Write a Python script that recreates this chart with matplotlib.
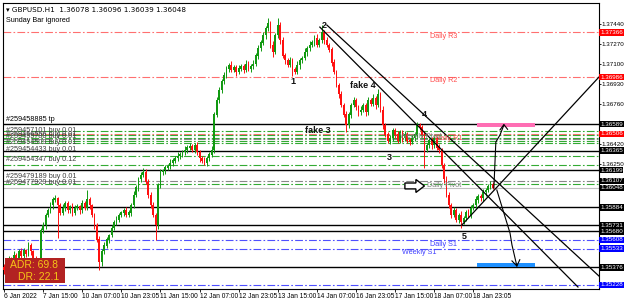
import numpy as np
import matplotlib
matplotlib.use('Agg')
import matplotlib.pyplot as plt
from matplotlib.patches import Rectangle, Polygon

plt.rcParams['font.family'] = ['Liberation Sans', 'DejaVu Sans']

# --- data -------------------------------------------------------------
first_open = 1.3538
closes = [
    1.3535, 1.3540, 1.3545, 1.3542, 1.3548, 1.3545, 1.3551, 1.3547, 1.3552, 1.3549,
    1.3556, 1.3551, 1.3545, 1.3542, 1.3539,
    1.3569, 1.3573, 1.3582, 1.3586, 1.3590, 1.3595, 1.3596,
    1.3590, 1.3584, 1.3588, 1.3592, 1.3586, 1.3589, 1.3584, 1.3588,
    1.3589, 1.3586, 1.3592, 1.3588, 1.3595, 1.3590,
    1.3582, 1.3573, 1.3561, 1.3542,
    1.3551, 1.3556, 1.3561, 1.3565, 1.3571, 1.3576, 1.3578, 1.3582, 1.3584, 1.3586,
    1.3582, 1.3584, 1.3590, 1.3599, 1.3605, 1.3612, 1.3616, 1.3618,
    1.3610, 1.3599, 1.3590, 1.3582, 1.3573,
    1.3607, 1.3618,
    1.3620, 1.3622, 1.3623, 1.3626, 1.3628, 1.3630, 1.3632, 1.3633, 1.3635, 1.3637,
    1.3639, 1.3640, 1.3637, 1.3641,
    1.3635, 1.3630, 1.3628, 1.3626, 1.3630, 1.3633,
    1.3637, 1.3667, 1.3679, 1.3688, 1.3695, 1.3700, 1.3706,
    1.3709, 1.3705, 1.3707, 1.3703, 1.3706, 1.3708, 1.3705, 1.3710, 1.3706, 1.3708, 1.3710,
    1.3717, 1.3723, 1.3728,
    1.3734, 1.3740, 1.3744, 1.3726, 1.3720, 1.3734, 1.3743, 1.3730, 1.3717, 1.3713,
    1.3709, 1.3713, 1.3705, 1.3703,
    1.3709, 1.3713, 1.3715, 1.3720, 1.3723, 1.3726,
    1.3728, 1.3732, 1.3726, 1.3730, 1.3737,
    1.3730, 1.3726, 1.3722,
    1.3711, 1.3703, 1.3692, 1.3684, 1.3675, 1.3667, 1.3658,
    1.3667, 1.3675, 1.3679, 1.3673, 1.3669,
    1.3671, 1.3675, 1.3669, 1.3679, 1.3676, 1.3681, 1.3675, 1.3684,
    1.3671, 1.3658, 1.3650, 1.3645, 1.3647,
    1.3654, 1.3650, 1.3645, 1.3652, 1.3647, 1.3650, 1.3645, 1.3644, 1.3647, 1.3650,
    1.3658, 1.3656, 1.3650, 1.3637, 1.3641,
    1.3645, 1.3641, 1.3647, 1.3639, 1.3637,
    1.3624, 1.3612, 1.3599, 1.3590,
    1.3582, 1.3586, 1.3578, 1.3582, 1.3576, 1.3579,
    1.3584, 1.3582, 1.3588, 1.3590,
    1.3595, 1.3598, 1.3596, 1.3601, 1.3603, 1.3606, 1.36078, 1.36048,
]
# wick lengths in pips beyond the body
hi_wick = [
    2, 3, 2, 1, 3, 2, 2, 3, 2, 1,  3, 2, 1, 2, 1, 2, 3, 2, 2, 3,
    2, 3, 1, 2, 3, 2, 2, 1, 3, 2,  2, 1, 3, 2, 8, 2, 1, 2, 2, 3,
    2, 3, 2, 1, 2, 2, 3, 2, 1, 2,  3, 2, 2, 3, 2, 2, 2, 4, 3, 2,
    2, 3, 2, 2, 3, 1, 2, 2, 3, 2,  2, 3, 2, 2, 3, 2, 3, 2, 2, 3,
    2, 2, 3, 2, 2, 3, 2, 3, 2, 2,  3, 2, 2, 3, 2, 2, 3, 2, 2, 3,
    2, 2, 3, 2, 3, 2, 3, 2, 5, 2,  3, 2, 6, 2, 3, 2, 2, 3, 2, 2,
    3, 2, 2, 3, 2, 3, 2, 2, 3, 2,  6, 2, 3, 2, 2, 3, 2, 2, 3, 2,
    3, 2, 2, 3, 2, 2, 3, 2, 2, 3,  2, 3, 2, 5, 2, 3, 2, 2, 3, 2,
    2, 3, 2, 2, 3, 2, 2, 3, 2, 3,  2, 2, 3, 2, 2, 3, 2, 2, 3, 2,
    2, 3, 2, 2, 3, 2, 2, 3, 2, 2,  3, 2, 2, 3, 2, 2, 3, 2, 2, 3,
    2,
]
lo_wick = [
    3, 2, 2, 3, 2, 2, 3, 2, 2, 3,  2, 3, 2, 2, 4, 2, 2, 3, 2, 2,
    3, 2, 28, 2, 2, 3, 2, 2, 3, 2, 2, 3, 2, 2, 2, 3, 2, 3, 2, 7,
    3, 2, 2, 3, 2, 2, 3, 2, 2, 3,  2, 2, 3, 2, 2, 3, 2, 2, 2, 3,
    2, 2, 12, 3, 2, 2, 3, 2, 2, 3, 2, 2, 3, 2, 2, 3, 2, 2, 3, 2,
    3, 2, 2, 3, 2, 2, 3, 2, 2, 3,  2, 2, 3, 2, 2, 3, 2, 2, 3, 2,
    2, 3, 2, 2, 3, 2, 2, 3, 2, 3,  4, 2, 2, 3, 2, 3, 2, 2, 5, 2,
    2, 3, 2, 2, 3, 2, 2, 3, 2, 2,  2, 3, 2, 2, 3, 2, 2, 3, 2, 2,
    6, 2, 3, 2, 2, 3, 2, 2, 3, 2,  2, 2, 3, 2, 2, 3, 2, 2, 3, 2,
    3, 2, 2, 3, 2, 2, 3, 2, 2, 3,  2, 2, 15, 2, 2, 3, 2, 2, 3, 2,
    3, 2, 2, 3, 2, 2, 3, 5, 2, 2,  2, 3, 2, 2, 3, 2, 2, 3, 2, 2,
    1,
]

time_labels = ['6 Jan 2022', '7 Jan 15:00', '10 Jan 07:00', '10 Jan 23:05', '11 Jan 15:00',
               '12 Jan 07:00', '12 Jan 23:05', '13 Jan 15:00', '14 Jan 07:00', '16 Jan 23:05',
               '17 Jan 15:00', '18 Jan 07:00', '18 Jan 23:05']
price_ticks = [1.37440, 1.37270, 1.37100, 1.36930, 1.36760, 1.36420, 1.36250]

solid_levels = [1.36589, 1.36365, 1.36199, 1.35884, 1.35731, 1.35680, 1.35376]
red_levels = [1.37366, 1.36986, 1.36506]
blue_levels = [1.35608, 1.35533, 1.35228]
green_levels = [1.36530, 1.36495, 1.36475, 1.36450, 1.36425, 1.36320, 1.36245, 1.36080]
grey_levels = [1.36107, 1.36460]
bid = 1.36048

order_labels = [(1.36532, '#259457101 buy 0.01'), (1.36500, '#259456556 buy 0.01'),
                (1.36480, '#259455788 buy 0.01'), (1.36430, '#259454509 buy 0.01'),
                (1.36372, '#259454433 buy 0.01'), (1.36292, '#259454347 buy 0.12'),
                (1.36142, '#259479189 buy 0.01'), (1.36098, '#259477929 buy 0.01')]

box_black = [1.36589, 1.36365, 1.36199, 1.36107, 1.36048, 1.35884, 1.35731, 1.35680, 1.35376]
box_red = [1.37366, 1.36986, 1.36506]
box_blue = [1.35608, 1.35533, 1.35228]

# --- figure -----------------------------------------------------------
fig = plt.figure(figsize=(6.25, 3.01), dpi=100)
ax = fig.add_axes([3/625, 12/301, 596/625, 286/301])
ax.set_xlim(-0.4, 243.4)
ax.set_ylim(1.35192, 1.37615)

n = len(closes)
idx = np.arange(n)
c = np.array(closes)
o = np.concatenate([[first_open], c[:-1]])
hi = np.maximum(o, c) + np.array(hi_wick) * 0.0001
lo = np.minimum(o, c) - np.array(lo_wick) * 0.0001
up = c >= o
cols = np.where(up, '#119911', '#ff1010')

LS = (0, (7, 2, 1.5, 2))
for p in red_levels:
    ax.axhline(p, color='#ff7070', lw=0.8, ls=LS, zorder=1)
for p in blue_levels:
    ax.axhline(p, color='#5050ff', lw=0.8, ls=LS, zorder=1)
for p in green_levels:
    ax.axhline(p, color='#33aa33', lw=0.8, ls=LS, zorder=1)
for p in grey_levels:
    ax.axhline(p, color='#888888', lw=0.8, ls=LS, zorder=1)
ax.axhline(bid, color='#c0c0c0', lw=0.8, zorder=1)
for p in solid_levels:
    ax.axhline(p, color='black', lw=1.0, zorder=2)

ax.vlines(idx, lo, hi, colors=cols, lw=0.7, zorder=3)
ax.bar(idx, np.abs(c - o) + 0.00002, bottom=np.minimum(o, c), width=0.7,
       color=cols, linewidth=0, zorder=4)

# trend lines and hand arrows
ax.plot([129.2, 234.8], [1.37411, 1.35209], color='black', lw=0.9, zorder=5)
ax.plot([132.1, 243.8], [1.37428, 1.35294], color='black', lw=0.9, zorder=5)
ax.plot([187.3, 243.4], [1.35734, 1.36988], color='black', lw=0.9, zorder=5)
ax.plot([200.4, 201.2, 202.9, 204.5], [1.36048, 1.36437, 1.36497, 1.36581], color='black', lw=0.8, zorder=5)
ax.plot([202.9, 204.5, 206.0], [1.36540, 1.36585, 1.36545], color='black', lw=0.8, zorder=5)
ax.plot([201.6, 207.0, 207.8, 209.8], [1.36031, 1.35666, 1.35565, 1.35387], color='black', lw=0.8, zorder=5)
ax.plot([207.8, 209.8, 211.0], [1.35430, 1.35387, 1.35440], color='black', lw=0.8, zorder=5)

ax.add_patch(Rectangle((193.5, 1.36564), 23.7, 0.00034, color='#ff6eb4', lw=0, zorder=2))
ax.add_patch(Rectangle((193.5, 1.35380), 23.7, 0.00034, color='#1e90ff', lw=0, zorder=2))
ax.add_patch(Polygon([[164, 1.36090], [168.5, 1.36090], [168.5, 1.36120], [172, 1.36065],
                      [168.5, 1.36010], [168.5, 1.36040], [164, 1.36040]],
                     closed=True, fc='white', ec='black', lw=1.0, zorder=6))

# text labels
bold = dict(fontsize=6.5, fontweight='bold', color='#111111', zorder=7)
ax.text(118.2, 1.36954, '1', ha='center', va='center', **bold)
ax.text(130.9, 1.37428, '2', ha='center', va='center', **bold)
ax.text(146.8, 1.36912, 'fake 4', ha='center', va='center', **bold)
ax.text(128.4, 1.36539, 'fake 3', ha='center', va='center', **bold)
ax.text(171.8, 1.36674, '4', ha='center', va='center', **bold)
ax.text(157.5, 1.36302, '3', ha='center', va='center', **bold)
ax.text(188.1, 1.35633, '5', ha='center', va='center', **bold)

sm = dict(fontsize=5.2, va='center', zorder=7)
ax.text(174.2, 1.37335, 'Daily R3', color='#ff5050', **sm)
ax.text(174.2, 1.36962, 'Daily R2', color='#ff5050', **sm)
ax.text(176.5, 1.36470, 'Daily R1', color='#ff5050', **sm)
ax.text(162.0, 1.36480, 'Weekly Pivot', color='#808080', **sm)
ax.text(173.2, 1.36065, 'Daily Pivot', color='#808080', **sm)
ax.text(174.2, 1.35573, 'Daily S1', color='#4040ff', **sm)
ax.text(162.8, 1.35497, 'Weekly S1', color='#4040ff', **sm)

ax.text(1.0, 1.36600, '#259458885 tp', fontsize=5.2, va='bottom', color='black', zorder=7)
for p, t in order_labels:
    ax.text(1.0, p, t, fontsize=5.2, va='center', color='#404040', zorder=7)

ax.text(0.005, 0.985, '\u25be GBPUSD.H1  1.36078 1.36096 1.36039 1.36048', transform=ax.transAxes,
        fontsize=5.2, va='top', color='black', family=['DejaVu Sans'])
ax.text(0.005, 0.952, 'Sunday Bar ignored', transform=ax.transAxes, fontsize=5.2, va='top', color='black')

ax.add_patch(Rectangle((0.0034, 0.021), 0.1, 0.087, transform=ax.transAxes,
                       color='#b22222', lw=0, zorder=8))
ax.text(0.012, 0.085, 'ADR: 69.8', transform=ax.transAxes, fontsize=7.5, color='#f5c518',
        va='center', zorder=9)
ax.text(0.026, 0.043, 'DR: 22.1', transform=ax.transAxes, fontsize=7.5, color='#f5c518',
        va='center', zorder=9)

# axes styling
ax.yaxis.tick_right()
ax.set_yticks(price_ticks)
ax.set_yticklabels(['%.5f' % p for p in price_ticks])
ax.set_xticks(np.arange(0, 16 * len(time_labels), 16))
ax.set_xticklabels(time_labels, ha='left')
ax.tick_params(axis='x', labelsize=4.8, length=2, width=0.6, pad=1.2)
ax.tick_params(axis='y', labelsize=4.5, length=1.5, width=0.6, pad=0.6)
for s in ax.spines.values():
    s.set_linewidth(0.8)

for plist, bg, fg in [(box_black, 'black', 'white'), (box_red, '#ff0000', 'white'),
                      (box_blue, '#0000ff', 'white')]:
    for p in plist:
        ax.text(1.002, p, '%.5f' % p, transform=ax.get_yaxis_transform(), fontsize=4.5,
                color=fg, va='center', ha='left', zorder=10, clip_on=False,
                bbox=dict(boxstyle='square,pad=0.12', fc=bg, ec='none'))

fig.savefig('out.png', dpi=100)
